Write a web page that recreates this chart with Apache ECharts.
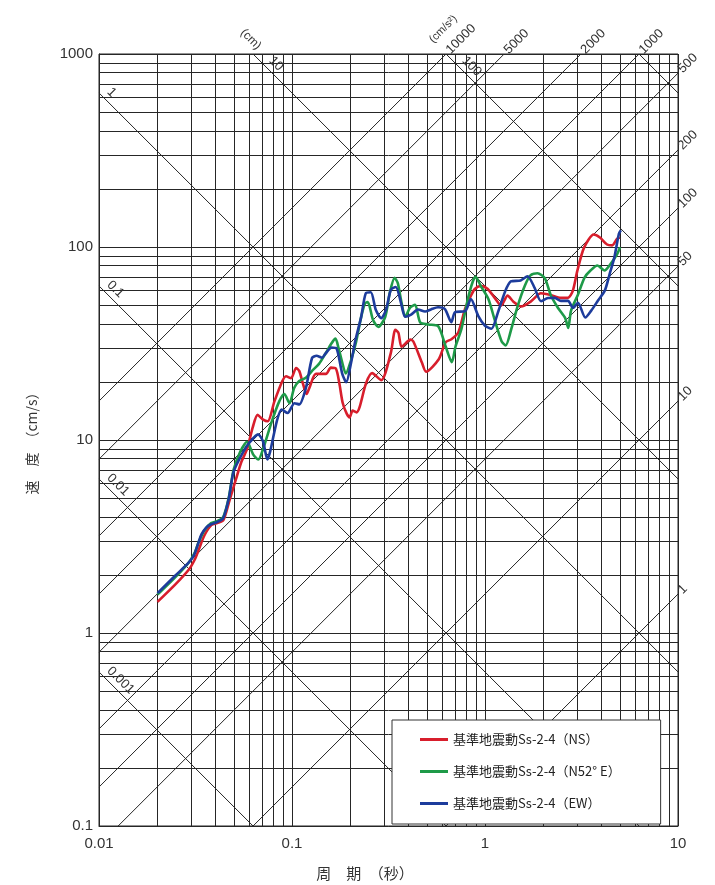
<!DOCTYPE html>
<html><head><meta charset="utf-8">
<script src="https://cdn.jsdelivr.net/npm/echarts@6/dist/echarts.min.js"></script>
<style>html,body{margin:0;padding:0;background:#fff}#c{width:715px;height:885px}</style>
</head><body><div id="c"></div>
<script>
// ---- data (period in s, pseudo velocity in cm/s) ----
const periodNS = [0.0201,0.0248,0.0293,0.0314,0.0329,0.0352,0.0382,0.0410,0.0441,0.0472,0.0511,0.0547,0.0586,0.0627,0.0663,0.0705,0.0749,0.0810,0.0889,0.0931,0.0989,0.105,0.109,0.113,0.119,0.123,0.133,0.150,0.159,0.169,0.176,0.183,0.192,0.199,0.206,0.216,0.224,0.242,0.260,0.290,0.325,0.343,0.356,0.370,0.411,0.426,0.471,0.495,0.576,0.625,0.670,0.728,0.788,0.844,0.885,0.950,1.03,1.13,1.21,1.31,1.40,1.54,1.73,1.95,2.19,2.47,2.69,2.85,3.01,3.26,3.66,3.94,4.29,4.56,4.83,5.00];
const velocityNS = [1.45,1.78,2.14,2.41,2.71,3.21,3.62,3.71,3.85,4.78,6.21,7.71,9.02,11.7,13.5,12.8,12.5,15.8,20.1,21.4,20.9,23.6,22.8,20.2,17.3,18.6,22.0,22.0,23.7,23.4,19.6,15.6,13.7,13.1,14.2,13.9,14.8,19.7,22.2,20.4,28.2,37.2,35.9,30.4,33.1,32.3,25.2,22.6,26.2,32.1,33.3,36.2,47.7,55.7,60.6,62.9,60.7,54.0,49.7,56.0,52.2,49.2,52.3,57.6,56.4,54.5,54.5,59.3,75.4,99.3,116,112,103,102,110,112];

const periodN52E = [0.0201,0.0248,0.0292,0.0314,0.0328,0.0352,0.0381,0.0410,0.0440,0.0471,0.0498,0.0539,0.0585,0.0630,0.0669,0.0709,0.0786,0.0860,0.0912,0.0971,0.1026,0.109,0.118,0.127,0.138,0.149,0.160,0.168,0.174,0.181,0.190,0.202,0.214,0.228,0.239,0.247,0.263,0.280,0.304,0.321,0.340,0.353,0.367,0.386,0.409,0.434,0.462,0.509,0.573,0.625,0.673,0.704,0.755,0.815,0.863,0.894,0.950,1.04,1.13,1.22,1.28,1.37,1.48,1.61,1.72,1.87,2.04,2.19,2.39,2.60,2.70,2.79,3.03,3.28,3.52,3.82,4.16,4.46,4.84,5.01];
const velocityN52E = [1.58,1.94,2.32,2.62,2.95,3.41,3.71,3.80,3.99,5.07,7.00,8.69,9.80,8.40,7.92,9.03,12.5,15.9,17.3,15.5,18.6,20.2,21.0,22.8,24.8,28.0,31.6,33.5,30.1,25.8,22.1,25.8,31.7,43.2,51.1,51.8,41.8,38.5,43.4,57.8,69.2,65.2,53.3,43.5,48.5,50.2,40.6,39.7,38.8,30.6,25.3,30.6,37.6,53.8,65.9,70.0,62.9,53.9,41.0,32.4,30.9,37.8,49.8,63.2,71.3,73.1,69.0,56.4,48.3,42.9,38.1,46.7,56.6,69.4,75.5,80.2,75.6,81.4,91.8,99.8];

const periodEW = [0.0201,0.0248,0.0292,0.0310,0.0328,0.0340,0.0360,0.0381,0.0410,0.0440,0.0471,0.0498,0.0559,0.0607,0.0667,0.0708,0.0745,0.0771,0.0834,0.0883,0.0949,0.103,0.109,0.118,0.127,0.134,0.143,0.149,0.160,0.170,0.182,0.191,0.202,0.213,0.228,0.241,0.256,0.272,0.290,0.307,0.325,0.345,0.367,0.386,0.414,0.450,0.489,0.525,0.571,0.620,0.669,0.700,0.789,0.845,0.922,1.00,1.08,1.17,1.27,1.36,1.53,1.66,1.81,1.95,2.12,2.30,2.47,2.69,2.86,3.03,3.31,3.55,3.85,4.18,4.42,4.68,4.94,5.06];
const velocityEW = [1.61,1.98,2.32,2.52,2.95,3.25,3.53,3.66,3.76,3.94,5.01,6.84,8.69,9.80,10.7,9.82,7.93,8.73,12.5,14.4,13.8,15.5,15.3,18.6,26.6,27.3,26.7,28.0,30.1,29.8,22.1,19.9,24.9,32.8,43.2,57.5,58.3,47.1,42.8,47.2,59.9,62.1,51.4,43.5,44.6,47.4,46.3,47.5,48.7,47.6,40.8,46.0,46.5,53.8,44.0,39.1,37.7,46.2,58.7,66.3,67.1,70.5,61.2,52.4,54.4,54.5,52.6,52.6,48.4,51.4,43.1,46.8,52.8,59.6,72.2,88.4,117,122];

const seriesNames = ['基準地震動Ss-2-4（NS）','基準地震動Ss-2-4（N52° E）','基準地震動Ss-2-4（EW）'];
const xTickLabels = ['0.01','0.1','1','10'];
const yTickLabels = ['0.1','1','10','100','1000'];
const displacementLines = [0.001,0.01,0.1,1,10,100,1000];        // cm
const displacementLabels = ['0.001','0.01','0.1','1','10','100'];
const accelerationLines = [1,10,50,100,200,500,1000,2000,5000,10000]; // cm/s2
const accelerationLabels = ['1','10','50','100','200','500','1000','2000','5000','10000'];

// ---- layout / styles ----
const T_MIN=0.01, T_MAX=10, V_MIN=0.1, V_MAX=1000, TWO_PI=2*Math.PI;
const GRID_COLOR='#262626';
const FONT='"Liberation Sans", Arial, sans-serif';
const CJK='"Noto Sans CJK JP", sans-serif';

const gridSegs=[];
for(let d=T_MIN; d<T_MAX*0.99; d*=10){ for(let k=1;k<=9;k++){const t=+(k*d).toPrecision(3); gridSegs.push({coords:[[t,V_MIN],[t,V_MAX]]});} }
gridSegs.push({coords:[[T_MAX,V_MIN],[T_MAX,V_MAX]]});
for(let d=V_MIN; d<V_MAX*0.99; d*=10){ for(let k=1;k<=9;k++){const v=+(k*d).toPrecision(3); gridSegs.push({coords:[[T_MIN,v],[T_MAX,v]]});} }
gridSegs.push({coords:[[T_MIN,V_MAX],[T_MAX,V_MAX]]});

function dispSeg(D){const t1=Math.max(T_MIN,TWO_PI*D/V_MAX), t2=Math.min(T_MAX,TWO_PI*D/V_MIN);return [[t1,TWO_PI*D/t1],[t2,TWO_PI*D/t2]];}
function accSeg(A){const t1=Math.max(T_MIN,TWO_PI*V_MIN/A), t2=Math.min(T_MAX,TWO_PI*V_MAX/A);return [[t1,A*t1/TWO_PI],[t2,A*t2/TWO_PI]];}
displacementLines.forEach(D=>gridSegs.push({coords:dispSeg(D)}));
accelerationLines.forEach(A=>gridSegs.push({coords:accSeg(A)}));

const chart=echarts.init(document.getElementById('c'),null,{renderer:'canvas'});
const colors=['#d81e2c','#1e9a48','#1d3c9c'];
const mk=(ts,vs)=>ts.map((t,i)=>[t,vs[i]]);
chart.setOption({
  animation:false,
  backgroundColor:'#fff',
  grid:{left:99,right:37,top:54,bottom:59,show:true,borderColor:GRID_COLOR,borderWidth:1,containLabel:false},
  xAxis:{type:'log',logBase:10,min:T_MIN,max:T_MAX,
    axisLine:{show:true,lineStyle:{color:GRID_COLOR}},axisTick:{show:false},splitLine:{show:false},minorSplitLine:{show:false},
    axisLabel:{margin:10,fontSize:15,color:'#333',fontFamily:FONT,formatter:v=>xTickLabels[Math.round(Math.log10(v))+2]}},
  yAxis:{type:'log',logBase:10,min:V_MIN,max:V_MAX,
    axisLine:{show:true,lineStyle:{color:GRID_COLOR}},axisTick:{show:false},splitLine:{show:false},
    axisLabel:{margin:6,fontSize:15,color:'#333',fontFamily:FONT,formatter:v=>yTickLabels[Math.round(Math.log10(v))+1]}},
  legend:{left:392,top:720,orient:'vertical',backgroundColor:'#fff',borderColor:'#333',borderWidth:1,borderRadius:0,
    padding:[13,40,14,28],itemGap:19,itemWidth:28,itemHeight:3,icon:'rect',
    textStyle:{fontSize:13,color:'#222',fontFamily:CJK},data:seriesNames},
  series:[
    {type:'lines',coordinateSystem:'cartesian2d',silent:true,z:1,polyline:false,data:gridSegs,
     lineStyle:{color:GRID_COLOR,width:1,opacity:1},effect:{show:false}},
    {name:seriesNames[0],type:'line',data:mk(periodNS,velocityNS),showSymbol:false,symbol:'none',smooth:0.25,z:5,lineStyle:{width:2.6,color:colors[0]},itemStyle:{color:colors[0]}},
    {name:seriesNames[1],type:'line',data:mk(periodN52E,velocityN52E),showSymbol:false,symbol:'none',smooth:0.25,z:5,lineStyle:{width:2.6,color:colors[1]},itemStyle:{color:colors[1]}},
    {name:seriesNames[2],type:'line',data:mk(periodEW,velocityEW),showSymbol:false,symbol:'none',smooth:0.25,z:6,lineStyle:{width:2.6,color:colors[2]},itemStyle:{color:colors[2]}}
  ]
});

// ---- labels for the diagonal lines, placed through the axes ----
const px=p=>chart.convertToPixel({gridIndex:0},p);
const g=[];
const S=Math.SQRT1_2;
displacementLabels.forEach((lab,i)=>{
  const seg=dispSeg(displacementLines[i]); const p=px(seg[0]);
  const onTop = seg[0][1] >= V_MAX*0.999;
  const off = onTop ? 16 : 5;
  g.push({type:'text',x:p[0]+off*S+2,y:p[1]+off*S-2,rotation:-Math.PI/4,
    style:{text:lab,font:'13px '+FONT,fill:'#333',align:'left',verticalAlign:'bottom'},z:10});
  if(lab==='10'){
    g.push({type:'text',x:p[0]+2,y:p[1]-2,rotation:-Math.PI/4,
      style:{text:'(cm)',font:'12px '+FONT,fill:'#333',align:'right',verticalAlign:'bottom'},z:10});
  }
});
accelerationLabels.forEach((lab,i)=>{
  const seg=accSeg(accelerationLines[i]); const p=px(seg[1]);
  g.push({type:'text',x:p[0]+3*S,y:p[1]-3*S,rotation:Math.PI/4,
    style:{text:lab,font:'13px '+FONT,fill:'#333',align:'left',verticalAlign:'middle'},z:10});
  if(lab==='10000'){
    g.push({type:'text',x:p[0]-11,y:p[1]-9,rotation:Math.PI/4,
      style:{text:'(cm/s²)',font:'11px '+FONT,fill:'#333',align:'left',verticalAlign:'bottom'},z:10});
  }
});
// axis names
g.push({type:'text',x:32,y:440,rotation:Math.PI/2,style:{text:'速　度　（cm/s）',font:'14px '+CJK,fill:'#333',align:'center',verticalAlign:'middle'}});
g.push({type:'text',x:365,y:873,style:{text:'周　期　（秒）',font:'15px '+CJK,fill:'#333',align:'center',verticalAlign:'middle'}});
chart.setOption({graphic:g});
</script></body></html>
